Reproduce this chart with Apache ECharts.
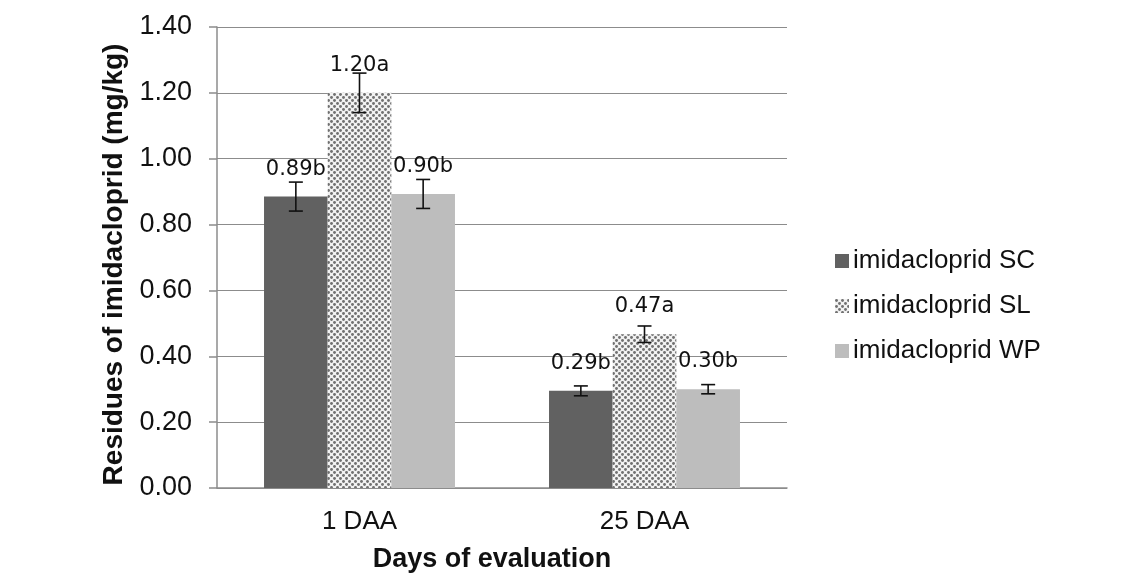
<!DOCTYPE html>
<html><head><meta charset="utf-8">
<script src="https://cdn.jsdelivr.net/npm/echarts@6/dist/echarts.min.js"></script>
<style>html,body{margin:0;padding:0;background:#fff}#c{width:1138px;height:577px}</style>
</head><body><div id="c"></div>
<script>
var categories = ['1 DAA', '25 DAA'];
var seriesNames = ['imidacloprid SC', 'imidacloprid SL', 'imidacloprid WP'];
var scValues = [0.885, 0.295];
var slValues = [1.20, 0.467];
var wpValues = [0.893, 0.300];
var scErr = [0.044, 0.015];
var slErr = [0.06, 0.025];
var wpErr = [0.044, 0.014];
var scLabels = ['0.89b', '0.29b'];
var slLabels = ['1.20a', '0.47a'];
var wpLabels = ['0.90b', '0.30b'];
var yTicks = [0, 0.2, 0.4, 0.6, 0.8, 1.0, 1.2, 1.4];

var pc = document.createElement('canvas');
pc.width = 6; pc.height = 6;
var g = pc.getContext('2d');
g.fillStyle = '#f2f2f2'; g.fillRect(0,0,6,6);
g.fillStyle = '#707070';
g.beginPath(); g.arc(1.5,1.5,1.45,0,Math.PI*2); g.fill();
g.beginPath(); g.arc(4.5,4.5,1.45,0,Math.PI*2); g.fill();

var colors = ['#616161', {image: pc, repeat: 'repeat'}, '#bdbdbd'];
var vals = [scValues, slValues, wpValues];
var errs = [scErr, slErr, wpErr];
var labs = [scLabels, slLabels, wpLabels];
var catGap = 0.33;

var series = [];
vals.forEach(function(v, i){
  series.push({
    name: seriesNames[i], type: 'bar', data: v,
    barGap: '0%', barCategoryGap: (catGap*100)+'%',
    itemStyle: {color: colors[i]},
    label: {show: true, position: 'top', distance: 17,
      formatter: function(p){ return labs[i][p.dataIndex]; },
      fontFamily: 'DejaVu Sans', fontSize: 21, color: '#111'}
  });
});
vals.forEach(function(v, i){
  series.push({
    type: 'custom', silent: true, z: 10,
    data: v.map(function(x, k){ return [k, x - errs[i][k], x + errs[i][k]]; }),
    encode: {x: 0, y: [1, 2]},
    renderItem: function(params, api){
      var k = api.value(0);
      var lo = api.coord([k, api.value(1)]);
      var hi = api.coord([k, api.value(2)]);
      var band = api.size([1, 0])[0];
      var bw = band * (1 - catGap) / 3;
      var x = lo[0] + (i - 1) * bw;
      var cap = 7;
      var st = {stroke: '#111', lineWidth: 1.6};
      return {type: 'group', children: [
        {type: 'line', shape: {x1: x, y1: lo[1], x2: x, y2: hi[1]}, style: st},
        {type: 'line', shape: {x1: x-cap, y1: lo[1], x2: x+cap, y2: lo[1]}, style: st},
        {type: 'line', shape: {x1: x-cap, y1: hi[1], x2: x+cap, y2: hi[1]}, style: st}
      ]};
    }
  });
});

var chart = echarts.init(document.getElementById('c'));
chart.setOption({
  animation: false,
  backgroundColor: '#fff',
  grid: {left: 217, right: 351, top: 27, bottom: 89, outerBoundsMode: 'none', containLabel: false},
  legend: {
    orient: 'vertical', left: 830, top: 243, itemGap: 19,
    itemWidth: 14, itemHeight: 14, icon: 'rect', selectedMode: false,
    data: seriesNames,
    textStyle: {fontFamily: 'Liberation Sans', fontSize: 26, color: '#111', padding: [0,0,0,-1]}
  },
  xAxis: {
    type: 'category', data: categories,
    axisLine: {lineStyle: {color: '#8c8c8c', width: 1.5}},
    axisTick: {length: 7, lineStyle: {color: '#8c8c8c', width: 1.5}},
    axisLabel: {fontFamily: 'Liberation Sans', fontSize: 26, color: '#111', margin: 21},
    name: 'Days of evaluation', nameLocation: 'middle', nameGap: 58,
    nameTextStyle: {fontFamily: 'Liberation Sans', fontSize: 27, fontWeight: 'bold', color: '#111', padding: [0, 20, 0, 0]}
  },
  yAxis: {
    type: 'value', min: 0, max: 1.4, interval: 0.2,
    axisLine: {show: true, lineStyle: {color: '#8c8c8c', width: 1.5}},
    axisTick: {show: true, length: 8, lineStyle: {color: '#8c8c8c', width: 1.5}},
    splitLine: {lineStyle: {color: '#8c8c8c', width: 1.2}},
    axisLabel: {fontFamily: 'Liberation Sans', fontSize: 27, color: '#111', margin: 25,
      formatter: function(v){ return v.toFixed(2); }},
    name: 'Residues of imidacloprid (mg/kg)', nameLocation: 'middle', nameGap: 89,
    nameTextStyle: {fontFamily: 'Liberation Sans', fontSize: 28, fontWeight: 'bold', color: '#111', padding: [0, 14, 0, 0]}
  },
  series: series
});
</script></body></html>
